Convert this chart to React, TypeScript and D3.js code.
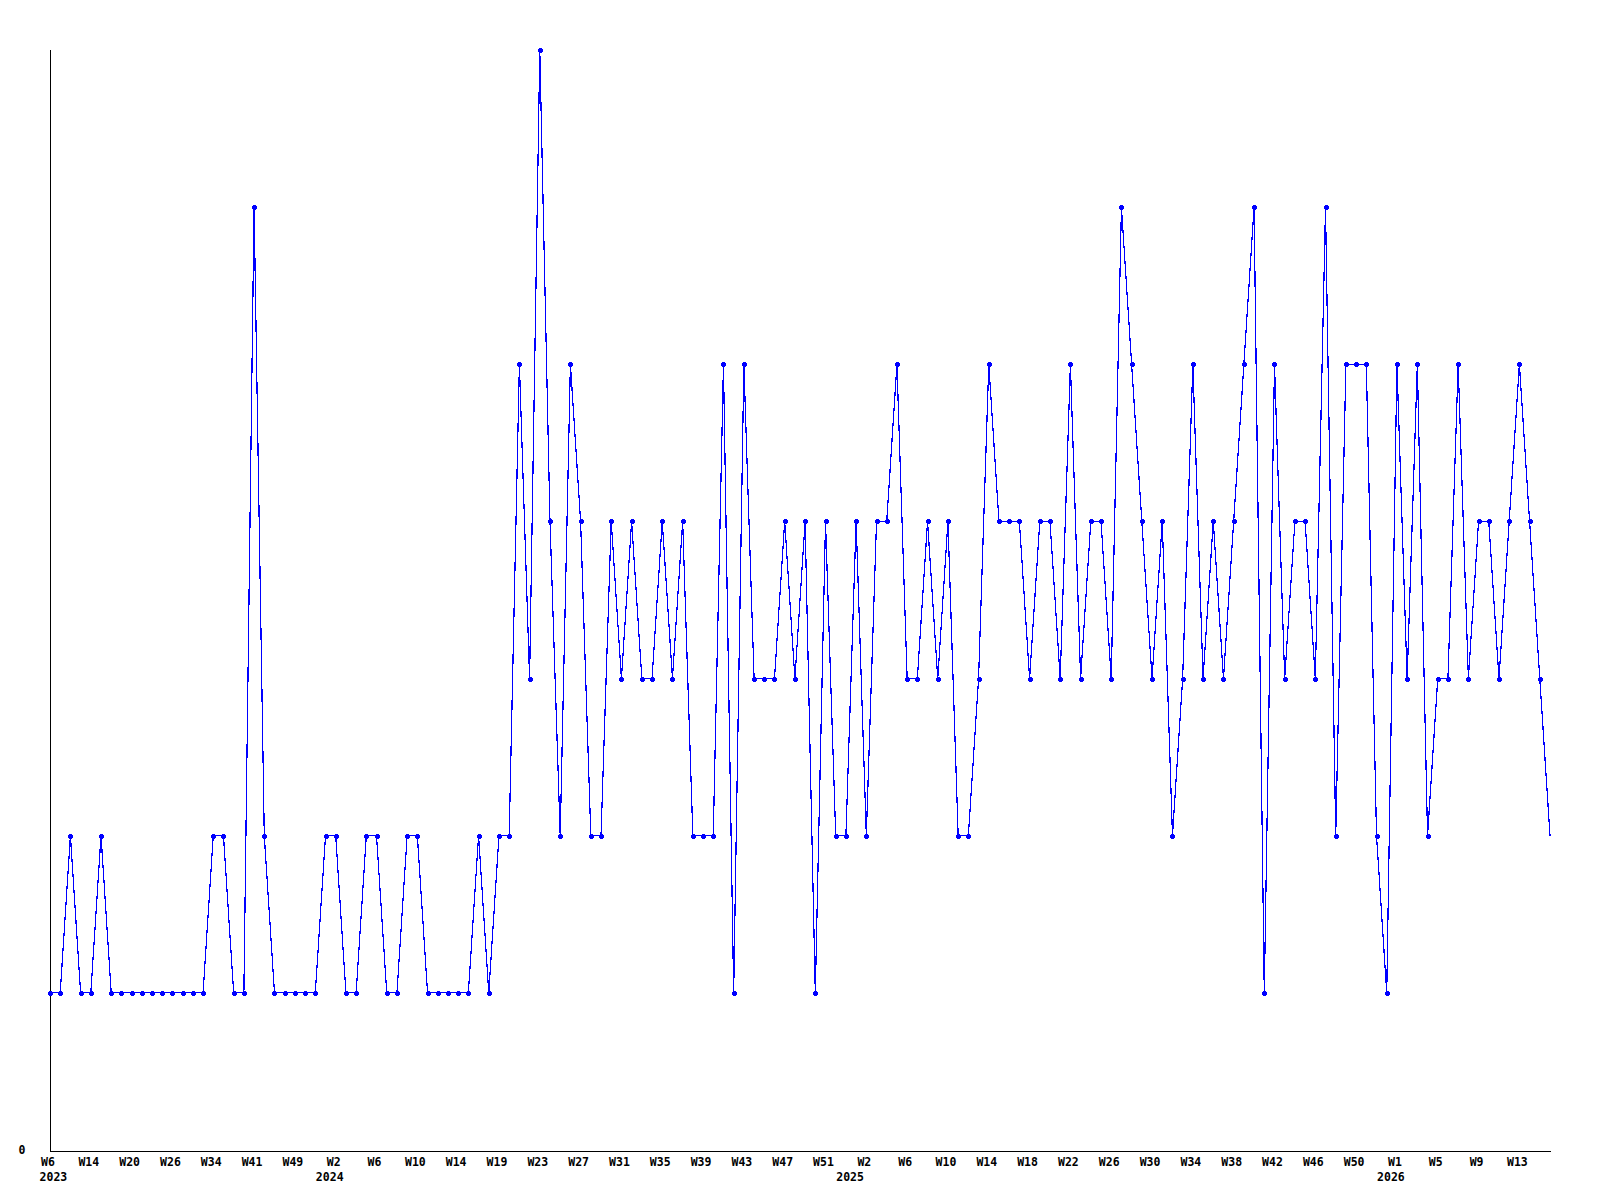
import React from "react";
import * as d3 from "d3";

// Weekly values (one point per reported week)
const values: number[] = [
  1, 1, 2, 1, 1, 2, 1, 1, 1, 1, 1, 1, 1, 1, 1, 1, 2, 2, 1, 1,
  6, 2, 1, 1, 1, 1, 1, 2, 2, 1, 1, 2, 2, 1, 1, 2, 2, 1, 1, 1,
  1, 1, 2, 1, 2, 2, 5, 3, 7, 4, 2, 5, 4, 2, 2, 4, 3, 4, 3, 3,
  4, 3, 4, 2, 2, 2, 5, 1, 5, 3, 3, 3, 4, 3, 4, 1, 4, 2, 2, 4,
  2, 4, 4, 5, 3, 3, 4, 3, 4, 2, 2, 3, 5, 4, 4, 4, 3, 4, 4, 3,
  5, 3, 4, 4, 3, 6, 5, 4, 3, 4, 2, 3, 5, 3, 4, 3, 4, 5, 6, 1,
  5, 3, 4, 4, 3, 6, 2, 5, 5, 5, 2, 1, 5, 3, 5, 2, 3, 3, 5, 3,
  4, 4, 3, 4, 5, 4, 3, 2,
];

// Week tick labels, one every 4 points
const weekLabels: string[] = [
  "W6", "W14", "W20", "W26", "W34", "W41", "W49", "W2", "W6", "W10",
  "W14", "W19", "W23", "W27", "W31", "W35", "W39", "W43", "W47", "W51",
  "W2", "W6", "W10", "W14", "W18", "W22", "W26", "W30", "W34", "W38",
  "W42", "W46", "W50", "W1", "W5", "W9", "W13",
];
const weekLabelStep = 4;

// Year labels and the point index where each year begins
const yearLabels: string[] = ["2023", "2024", "2025", "2026"];
const yearStartIdx: number[] = [0, 28, 79, 132];

const yTickValues: number[] = [0];
const yMax = 7;

const W = 1600;
const H = 1200;
const left = 50;
const right = 1550;
const top = 50;
const bottom = 1150;

export default function App() {
  const x = d3.scaleLinear().domain([0, values.length - 1]).range([left, right]);
  const y = d3.scaleLinear().domain([0, yMax]).range([bottom, top]);

  const line = d3
    .line<number>()
    .x((_, i) => x(i))
    .y((d) => y(d));

  const font = "'DejaVu Sans Mono', 'Liberation Mono', monospace";

  return (
    <svg
      width={W}
      height={H}
      style={{ position: "absolute", left: 0, top: 0, background: "#fff" }}
    >
      <rect x={0} y={0} width={W} height={H} fill="#fff" />
      {/* axes */}
      <line
        x1={left + 0.5}
        x2={left + 0.5}
        y1={top}
        y2={bottom + 1.5}
        stroke="#000"
        strokeWidth={1}
        shapeRendering="crispEdges"
      />
      <line
        x1={left}
        x2={right + 1}
        y1={bottom + 1.5}
        y2={bottom + 1.5}
        stroke="#000"
        strokeWidth={1}
        shapeRendering="crispEdges"
      />
      {/* data line */}
      <path
        d={line(values) || ""}
        fill="none"
        stroke="#0000ff"
        strokeWidth={1.2}
        shapeRendering="crispEdges"
      />
      {/* markers (last point has none) */}
      {values.slice(0, values.length - 1).map((v, i) => {
        const cx = Math.round(x(i));
        const cy = Math.round(y(v));
        return (
          <g key={i} fill="#0000ff" shapeRendering="crispEdges">
            <rect x={cx - 2} y={cy - 1} width={5} height={3} />
            <rect x={cx - 1} y={cy - 2} width={3} height={5} />
          </g>
        );
      })}
      {/* y tick labels */}
      {yTickValues.map((t) => (
        <text
          key={t}
          x={25.5}
          y={y(t) + 4}
          textAnchor="end"
          fontFamily={font}
          fontWeight="bold"
          fontSize={11.5}
          fill="#000"
        >
          {t}
        </text>
      ))}
      {/* week tick labels */}
      {weekLabels.map((lab, k) => (
        <text
          key={"w" + k}
          x={x(k * weekLabelStep) - 2}
          y={1166}
          textAnchor="middle"
          fontFamily={font}
          fontWeight="bold"
          fontSize={11.5}
          fill="#000"
        >
          {lab}
        </text>
      ))}
      {/* year labels */}
      {yearLabels.map((lab, k) => {
        const px = x(yearStartIdx[k]);
        const first = k === 0;
        return (
          <text
            key={"y" + k}
            x={first ? px - 10.4 : px - 6}
            y={1181}
            textAnchor={first ? "start" : "middle"}
            fontFamily={font}
            fontWeight="bold"
            fontSize={11.5}
            fill="#000"
          >
            {lab}
          </text>
        );
      })}
    </svg>
  );
}
